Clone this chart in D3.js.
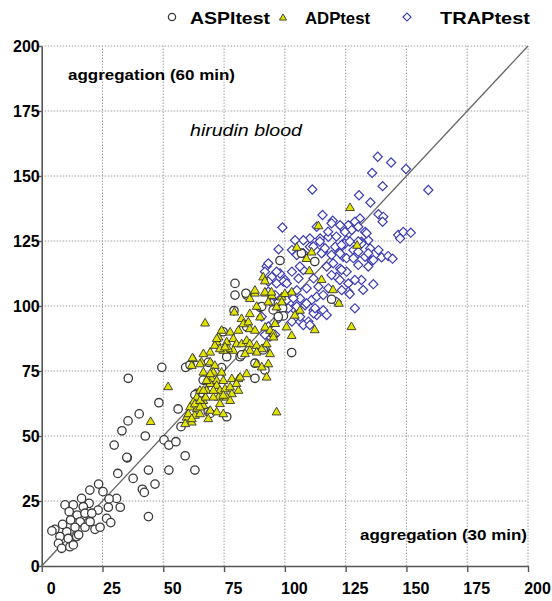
<!DOCTYPE html>
<html><head><meta charset="utf-8">
<script src="https://cdn.jsdelivr.net/npm/d3@7"></script>
<style>body{margin:0;background:#fff}svg{display:block}</style>
</head><body>
<script>
const xTicks = [0,25,50,75,100,125,150,175,200];
const yTicks = [0,25,50,75,100,125,150,175,200];
const seriesNames = ["ASPItest","ADPtest","TRAPtest"];
const labelY = "aggregation (60 min)";
const labelX = "aggregation (30 min)";
const subtitle = "hirudin blood";

const aspiData = [[35.2,41.6],[31.3,35.6],[37.6,33.7],[43.9,36.9],[46.6,31.5],[41.4,29.5],[42.2,28.3],[23.4,31.5],[25.2,28.6],[19.8,29.2],[30.8,26.0],[27.7,25.8],[32.3,22.6],[27.4,22.6],[43.9,19.0],[23.2,21.5],[19.5,24.1],[9.6,23.5],[13.0,23.5],[17.1,22.8],[11.3,20.9],[14.6,19.6],[17.8,20.3],[20.6,20.3],[26.7,18.3],[28.4,16.7],[11.9,17.7],[15.8,17.0],[17.8,14.9],[13.7,14.9],[10.3,13.2],[5.4,14.1],[4.2,13.5],[21.9,14.1],[24.0,14.9],[7.5,11.3],[10.9,10.6],[14.4,11.3],[6.9,8.7],[8.2,6.8],[11.6,7.4],[13.0,8.1],[16.4,26.0],[8.6,16],[19.9,17],[15.2,12],
[35.6,72.2],[49.4,76.4],[59.2,76.4],[48.2,62.8],[40.1,58.5],[35.5,55.8],[33.0,52.0],[42.6,50.0],[29.8,46.5],[35.0,41.8],[50.3,48.5],[52.3,46.5],[55.2,47.8],[59.0,42.4],[52.3,36.9],[63.0,36.9],[56.1,60.4],[63.8,66.4],[68.5,59.3],[57.3,53.6],[67.3,71.3],[68.5,78.3],[61.0,77.3],[65.1,66.4],[63.0,65.8],[69.3,58.7],[76.1,57.4],[66.4,71.5],
[79.5,104.2],[84.3,104.2],[79.1,98.2],[74.6,90.1],[74.0,76.3],[76.1,80.5],[73.3,72.2],[87.7,72.2],[91.8,75.4],[91.8,83.7],[89.8,99.5],[84.3,92.0],[81.6,80.5],[79.5,108.7],[84.0,104.9],[97.3,101.0],[99.1,99.1],[90.5,99.8],[99.4,96.2],[102.8,82.1],[91.1,83.1],[87.7,78.0],[82.2,81.2],[98.0,117.5],[106.8,120.3],[112.3,117.1],[119.2,102.6],[95.2,98.5],[97.3,95.9]];

const adpData = [[85.6,103.0],[87.7,105.1],[91.9,105.1],[94.6,104.2],[85.6,97.2],[88.4,100.0],[89.8,95.9],[82.2,95.3],[80.9,90.8],[82.9,93.3],[85.0,94.0],[85.6,91.4],[87.7,90.8],[91.9,92.0],[93.9,90.8],[95.3,89.5],[77.5,90.1],[72.7,88.2],[72.0,86.3],[76.1,86.3],[78.8,87.6],[80.1,85.6],[82.2,85.6],[84.3,86.9],[85.6,85.6],[88.4,85.0],[90.5,83.7],[92.5,85.6],[95.3,88.2],[93.9,81.8],[88.4,82.4],[85.6,83.1],[83.6,81.8],[78.8,83.1],[76.7,83.7],[74.7,83.1],[69.3,82.4],[66.5,81.8],[65.7,78.6],[62.3,79.9],[61.7,77.3],[69.3,78.6],[71.2,77.3],[74.0,74.7],[66.5,74.7],[68.5,72.8],[69.9,72.2],[72.0,71.5],[74.7,71.5],[78.2,72.2],[80.9,72.2],[84.3,74.1],[88.4,77.9],[90.5,76.7],[93.2,77.9],[92.5,72.8],[63.8,65.1],[65.1,67.7],[67.8,67.7],[69.3,70.3],[72.0,69.6],[73.3,67.7],[75.4,68.3],[77.5,69.0],[80.1,70.3],[80.9,67.7],[78.2,66.4],[76.1,65.1],[72.7,65.1],[70.6,65.1],[77.5,63.8],[73.3,62.6],[66.5,63.8],[62.3,63.2],[61.0,61.3],[63.8,60.6],[66.5,61.9],[69.3,60.0],[72.0,59.4],[74.7,58.7],[63.0,58.1],[65.1,58.7],[96.6,59.4],[67.2,93.6],[52.0,69.1],[44.8,55.7],[79.2,97.8],
[62.0,80.2],[71.2,85.0],[65.1,77.9],[70.6,74.7],[67.8,71.5],[70.6,67.7],[63.0,62.5],[65.1,63.8],[59.6,57.4],[61.7,55.5],[59.0,54.9],[68.5,56.8],[67.4,65.1],
[72.0,87.6],[74.0,90.8],[73.3,83.7],[75.4,84.4],[69.3,74.1],[66.5,67.7],[81.6,72.8],[74.7,65.8],[65.1,61.3],[60.3,58.7],[61.7,56.8],
[126.8,138.0],[113.8,131.0],[129.7,123.5],[111.0,120.9],[104.9,122.7],[108.9,118.4],[110.1,113.7],[115.1,110.3],[91.1,111.3],[91.8,109.8],[87.7,106.2],[91.8,105.5],[94.5,105.5],[98.7,103.6],[102.8,105.5],[100.0,104.9],[93.2,101.7],[98.7,101.7],[96.6,99.8],[106.2,98.5],[104.1,96.6],[119.8,106.4],[122.2,101.2],[112.3,91.0],[127.4,92.2],[100.7,92.1],[96.0,93.4],[102.8,88.8]];

const trapData = [[138.2,157.4],[143.7,155.2],[135.9,151.2],[149.8,152.7],[140.2,146.1],[159.0,144.6],[130.5,142.6],[135.2,139.8],[138.5,135.3],[140.5,134.3],[140.2,132.4],[130.9,133.7],[128.8,132.4],[126.1,131.1],[123.3,130.5],[127.5,129.2],[124.7,128.5],[133.0,128.5],[134.3,125.3],[131.5,124.7],[146.6,127.3],[148.7,128.5],[151.8,128.2],[147.4,126.0],[125.4,125.3],[123.3,122.8],[128.2,121.5],[128.8,118.9],[133.0,118.9],[135.7,117.4],[139.8,118.7],[142.5,119.2],[144.3,118.2],[124.0,118.9],[125.4,113.2],[131.5,110.0],[136.4,108.4],[126.1,108.7],[126.1,105.5],[126.7,104.6],[128.8,99.1],
[111.3,144.8],[115.5,135.0],[119.7,132.8],[122.7,131.1],[113.1,130.5],[99.0,130.2],[117.9,126.6],[114.5,126.0],[110.3,126.0],[107.6,125.3],[104.2,125.3],[97.4,121.8],[102.9,121.5],[120.7,122.8],[124.7,124.0],[131.6,124.0],[135.1,122.1],[138.5,121.5],[136.4,117.7],[114.5,123.4],[110.3,122.8],[115.8,120.9],[119.2,119.6],[122.7,120.2],[122.7,114.4],[121.3,111.2],[119.2,111.9],[123.4,106.1],[92.5,115.3],[94.6,111.2],[98.0,112.5],[102.9,113.2],[107.6,113.8],[105.6,110.6],[111.8,110.6],[100.1,110.0],[109.0,106.8],[113.8,107.4],[117.9,106.8],[104.9,106.1],[102.1,104.2],[106.3,102.9],[111.0,102.3],[113.1,103.6],[115.8,104.2],[108.3,100.3],[111.8,98.4],[115.8,98.4],[117.2,96.5],[113.1,96.5],[103.5,99.1],[97.4,95.2],[102.9,94.0],[106.3,94.0],[109.7,94.0],[98.0,99.7],[94.6,101.2],[100.8,102.3],[121.3,101.6],
[96.6,113.2],[99.4,109.4],[106.2,115.2],[122.6,110.0],[128.8,110.0],[123.3,113.9],[117.2,115.2],[119.9,116.4],[125.4,118.4],[128.2,118.4],[130.2,120.9],[134.3,120.3],[130.2,115.8],[134.3,115.2],[132.2,106.2],[117.8,128.6],[121.2,126.7],[130.2,130.5],[119.2,131.8],[126.7,124.8],[130.2,124.8],[133.6,128.0],[123.3,123.5],[104.9,119.6],[107.6,120.3],[115.1,120.3],[116.5,122.2],[111.7,122.9],[114.4,124.8],
[93.2,116.4],[91.8,113.2],[93.2,109.4],[96.6,108.7],[100.8,108.7],[93.2,105.5],[96.0,104.2],[103.5,103.0],[104.9,99.8],[108.9,101.0],[111.8,97.2],[106.3,95.9],[101.4,99.1],[107.6,92.7],[110.3,92.7],[112.4,99.1],[93.2,92.1],[93.9,88.2],[96.0,88.9],[90.5,95.9],[91.8,88.9]];

const W = 552, H = 601;
const m = {left: 41.7, right: 24, top: 46, bottom: 35};
const x = d3.scaleLinear().domain([0,200]).range([m.left, W - m.right]);
const y = d3.scaleLinear().domain([0,200]).range([H - m.bottom, m.top]);

const svg = d3.select("body").append("svg").attr("width", W).attr("height", H);
const FONT = "'Liberation Sans', Arial, sans-serif";

// gridlines
svg.append("g").selectAll("line").data(xTicks.filter(d=>d>0)).join("line")
  .attr("x1", d=>x(d)).attr("x2", d=>x(d)).attr("y1", y(0)).attr("y2", y(200))
  .attr("stroke", "#a0a0a0").attr("stroke-width", 1).attr("stroke-dasharray", "1.5,1.5");
svg.append("g").selectAll("line").data(yTicks.filter(d=>d>0)).join("line")
  .attr("y1", d=>y(d)).attr("y2", d=>y(d)).attr("x1", x(0)).attr("x2", x(200))
  .attr("stroke", "#a0a0a0").attr("stroke-width", 1).attr("stroke-dasharray", "1.5,1.5");

// axes
const xAxis = svg.append("g").attr("transform", `translate(0,${y(0)})`)
  .call(d3.axisBottom(x).tickValues(xTicks).tickSize(6).tickSizeOuter(0).tickPadding(11));
const yAxis = svg.append("g").attr("transform", `translate(${x(0)},0)`)
  .call(d3.axisLeft(y).tickValues(yTicks).tickSize(5).tickSizeOuter(0));
[xAxis, yAxis].forEach(a => {
  a.select(".domain").attr("stroke", "#555").attr("stroke-width", 1.6);
  a.selectAll(".tick line").attr("stroke", "#555").attr("stroke-width", 1.4);
  a.selectAll("text").attr("font-family", FONT).attr("font-weight", "bold")
    .attr("font-size", 16).attr("fill", "#000");
});
xAxis.selectAll("text").attr("dx", 9);
yAxis.selectAll("text").attr("x", -2);

// diagonal
svg.append("line").attr("x1", x(0)).attr("y1", y(0)).attr("x2", x(200)).attr("y2", y(200))
  .attr("stroke", "#666").attr("stroke-width", 1.3);

// markers
const tri = d3.symbol().type(d3.symbolTriangle).size(34);
const dia = d3.symbol().type(d3.symbolSquare).size(42);

svg.append("g").selectAll("path").data(trapData).join("path")
  .attr("d", dia).attr("transform", d=>`translate(${x(d[0])},${y(d[1])}) rotate(45)`)
  .attr("fill", "#fff").attr("stroke", "#3c3cb4").attr("stroke-width", 1.2);
svg.append("g").selectAll("circle").data(aspiData).join("circle")
  .attr("cx", d=>x(d[0])).attr("cy", d=>y(d[1])).attr("r", 4.2)
  .attr("fill", "#fff").attr("stroke", "#3a3a3a").attr("stroke-width", 1.3);
svg.append("g").selectAll("path").data(adpData).join("path")
  .attr("d", tri).attr("transform", d=>`translate(${x(d[0])},${y(d[1])+0.8})`)
  .attr("fill", "#e3e300").attr("stroke", "#333").attr("stroke-width", 0.9);

// annotations
svg.append("text").attr("x", 68).attr("y", 80).text(labelY)
  .attr("font-family", FONT).attr("font-weight", "bold").attr("font-size", 15)
  .attr("textLength", 167).attr("lengthAdjust", "spacingAndGlyphs");
svg.append("text").attr("x", 360).attr("y", 540).text(labelX)
  .attr("font-family", FONT).attr("font-weight", "bold").attr("font-size", 15)
  .attr("textLength", 167).attr("lengthAdjust", "spacingAndGlyphs");
svg.append("text").attr("x", 190).attr("y", 136).text(subtitle)
  .attr("font-family", FONT).attr("font-style", "italic").attr("font-size", 16)
  .attr("textLength", 112).attr("lengthAdjust", "spacingAndGlyphs");

// legend
const lg = svg.append("g");
const legendItems = [
  {name: seriesNames[0], mx: 172, tx: 190, tw: 80},
  {name: seriesNames[1], mx: 283, tx: 305, tw: 65},
  {name: seriesNames[2], mx: 407, tx: 440, tw: 90}
];
lg.append("circle").attr("cx", legendItems[0].mx).attr("cy", 17).attr("r", 3.6)
  .attr("fill", "#fff").attr("stroke", "#3a3a3a").attr("stroke-width", 1.3);
lg.append("path").attr("d", d3.symbol().type(d3.symbolTriangle).size(22))
  .attr("transform", `translate(${legendItems[1].mx},18)`)
  .attr("fill", "#e3e300").attr("stroke", "#333").attr("stroke-width", 0.9);
lg.append("path").attr("d", d3.symbol().type(d3.symbolSquare).size(32))
  .attr("transform", `translate(${legendItems[2].mx},17) rotate(45)`)
  .attr("fill", "#fff").attr("stroke", "#3c3cb4").attr("stroke-width", 1.2);
lg.selectAll("text").data(legendItems).join("text")
  .attr("x", d=>d.tx).attr("y", 24).text(d=>d.name)
  .attr("font-family", FONT).attr("font-weight", "bold").attr("font-size", 17)
  .attr("textLength", d=>d.tw).attr("lengthAdjust", "spacingAndGlyphs");
</script>
</body></html>
